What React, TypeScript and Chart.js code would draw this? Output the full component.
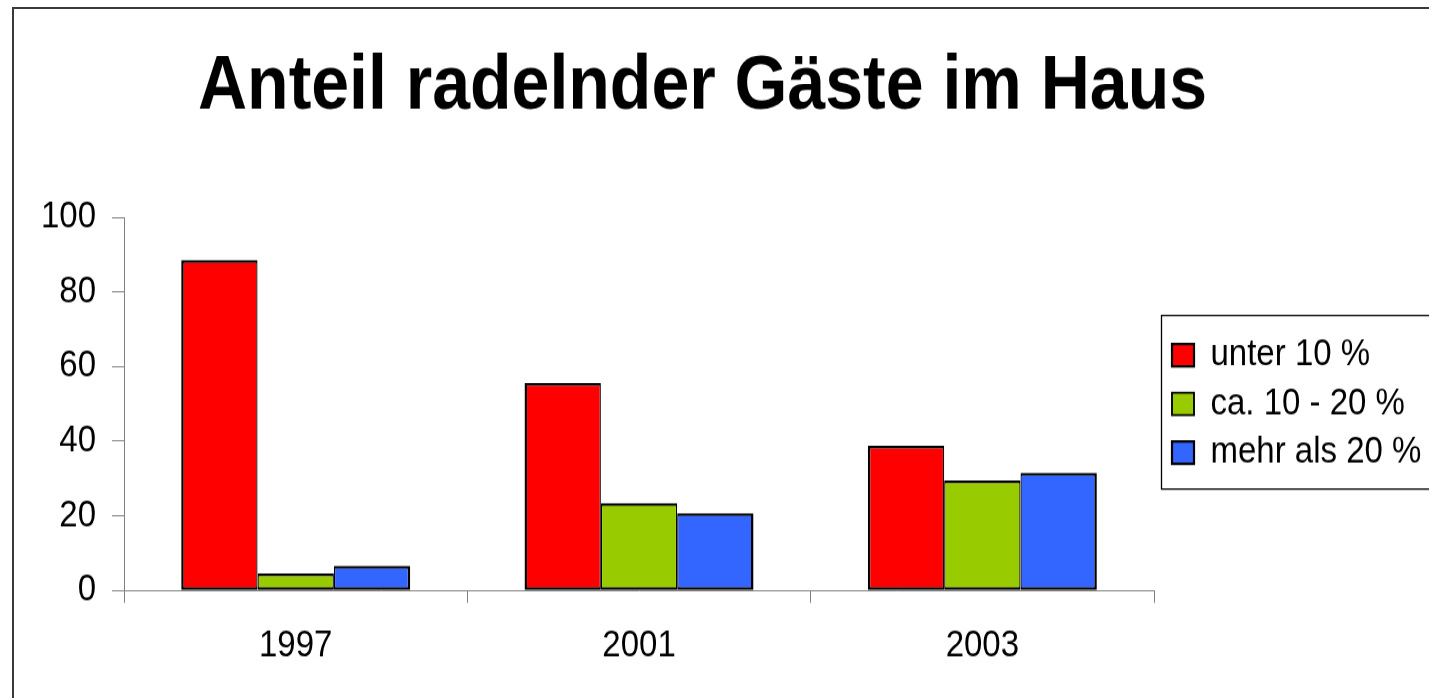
import React, { useEffect, useRef } from "react";
import { Chart, registerables } from "chart.js";

Chart.register(...registerables);

// ---- data ----
const TITLE = "Anteil radelnder Gäste im Haus";
const YEARS = ["1997", "2001", "2003"];
const SERIES_LABELS = ["unter 10 %", "ca. 10 - 20 %", "mehr als 20 %"];
const UNTER_10 = [88.5, 55.6, 38.8];
const CA_10_20 = [4.6, 23.4, 29.5];
const MEHR_20 = [6.6, 20.7, 31.5];
const SERIES_COLORS = ["#FF0000", "#99CC00", "#3366FF"];
const Y_MIN = 0;
const Y_MAX = 100;
const Y_STEP = 20;

// ---- layout ----
const W = 1429;
const SY = 1.12; // vertical stretch of the reference
const H = 623;
const FONT = "'Liberation Sans', Arial, Helvetica, sans-serif";

const legendFrame = {
  id: "legendFrame",
  afterLayout(chart: any) {
    const lg = chart.legend;
    if (!lg) return;
    lg.left += 7.5;
    lg.right = chart.width + 20;
  },
  afterDraw(chart: any) {
    const lg = chart.legend;
    const hb = lg && lg.legendHitBoxes;
    if (!hb || !hb.length) return;
    const ctx = chart.ctx;
    const top = hb[0].top - 19;
    const last = hb[hb.length - 1];
    const bottom = last.top + last.height + 16;
    const left = lg.left;
    ctx.save();
    ctx.strokeStyle = "#000";
    ctx.lineWidth = 1.3;
    ctx.strokeRect(left, top, chart.width + 20 - left, bottom - top);
    ctx.restore();
  },
};

export default function App() {
  const ref = useRef<HTMLCanvasElement>(null);

  useEffect(() => {
    const canvas = ref.current;
    if (!canvas) return;
    Chart.defaults.font.family = FONT;
    Chart.defaults.color = "#000";
    const seriesData = [UNTER_10, CA_10_20, MEHR_20];
    const sideBorders = [
      { top: 2.5, bottom: 2.5, left: 2.5, right: 1.25 },
      { top: 2.5, bottom: 2.5, left: 1.25, right: 1.25 },
      { top: 2.5, bottom: 2.5, left: 1.25, right: 2.5 },
    ];
    const chart = new Chart(canvas, {
      type: "bar",
      data: {
        labels: YEARS,
        datasets: SERIES_LABELS.map((label, i) => ({
          label,
          data: seriesData[i],
          backgroundColor: SERIES_COLORS[i],
          borderColor: "#000",
          borderWidth: sideBorders[i],
          borderSkipped: false,
          categoryPercentage: 0.667,
          barPercentage: 1,
        })),
      },
      options: {
        animation: false,
        responsive: false,
        layout: { padding: { left: 25, right: 49, top: 0, bottom: 7.1 } },
        plugins: {
          title: {
            display: true,
            text: TITLE,
            color: "#000",
            font: { family: FONT, size: 68, weight: "bold", lineHeight: 1.2 },
            padding: { top: 37.5, bottom: 74.9 },
          },
          legend: {
            position: "right",
            fullSize: false,
            maxWidth: 226,
            labels: {
              boxWidth: 22,
              boxHeight: 20,
              padding: 10.5,
              color: "#000",
              font: { family: FONT, size: 33 },
            },
          },
          tooltip: { enabled: false },
        },
        scales: {
          x: {
            grid: {
              display: true,
              drawOnChartArea: false,
              drawTicks: true,
              tickLength: 11,
              color: "#808080",
              offset: true,
            },
            border: { display: true, color: "#808080", width: 1 },
            ticks: { padding: 19, color: "#000", font: { family: FONT, size: 33 } },
          },
          y: {
            min: Y_MIN,
            max: Y_MAX,
            ticks: { stepSize: Y_STEP, padding: 16, color: "#000", font: { family: FONT, size: 33 } },
            grid: {
              display: true,
              drawOnChartArea: false,
              drawTicks: true,
              tickLength: 12,
              color: "#808080",
            },
            border: { display: true, color: "#808080", width: 1 },
          },
        },
      },
      plugins: [legendFrame],
    } as any);
    return () => chart.destroy();
  }, []);

  return (
    <div
      style={{
        position: "fixed",
        left: 0,
        top: 0,
        width: W,
        height: 698,
        overflow: "hidden",
        background: "#fff",
      }}
    >
      <div
        style={{
          position: "absolute",
          left: 12,
          top: 7,
          right: 0,
          bottom: 0,
          borderLeft: "2px solid #3a3a3a",
          borderTop: "2px solid #3a3a3a",
        }}
      />
      <div
        style={{
          position: "absolute",
          left: 0,
          top: 0,
          width: W,
          height: H,
          transform: `scaleY(${SY})`,
          transformOrigin: "0 0",
        }}
      >
        <canvas ref={ref} width={W} height={H} style={{ display: "block" }} />
      </div>
    </div>
  );
}
